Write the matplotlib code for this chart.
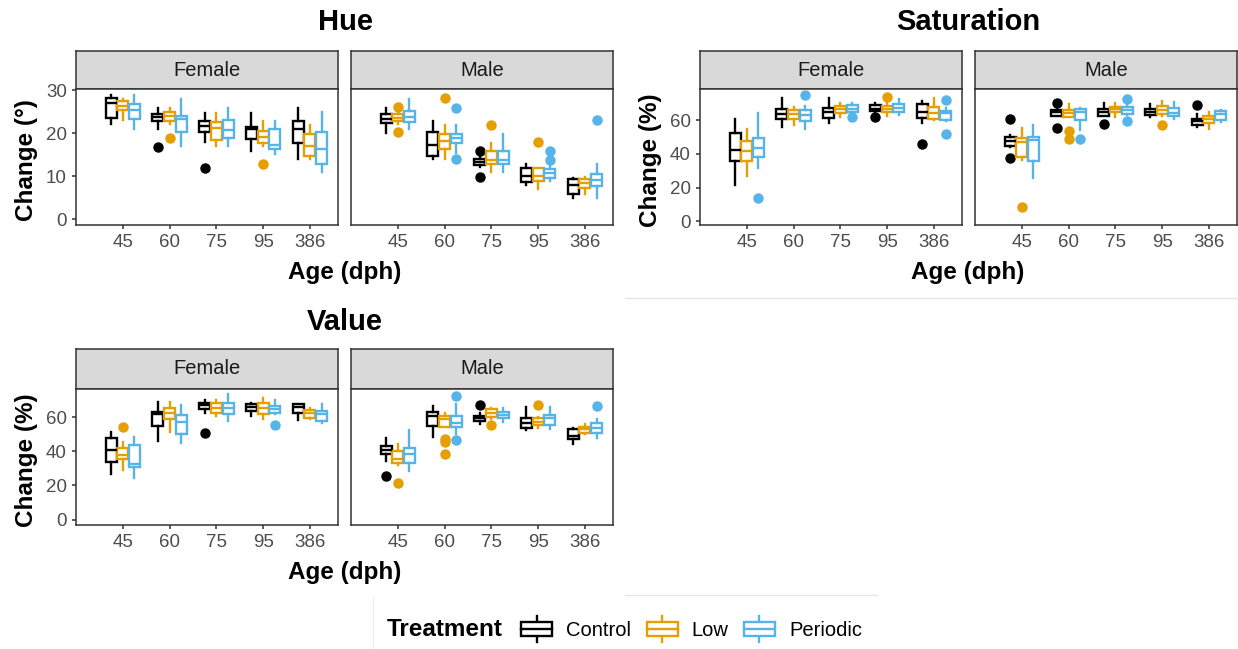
import matplotlib
matplotlib.use("Agg")
import matplotlib.pyplot as plt
from matplotlib.patches import Rectangle
from matplotlib.lines import Line2D
from matplotlib.legend_handler import HandlerBase

plt.rcParams['font.family'] = ['Liberation Sans', 'DejaVu Sans']

# -------------------------------
# DATA  (each box: whislo, q1, median, q3, whishi)
# -------------------------------
ages = ["45", "60", "75", "95", "386"]
treatments = ["Control", "Low", "Periodic"]
colors = ["#000000", "#E69F00", "#56B4E9"]

hue_f_ctrl = [[22.1, 23.6, 27.1, 28.3, 28.8], [21.1, 22.9, 23.9, 24.6, 26.0], [18.0, 20.3, 21.7, 22.9, 24.8],
              [16.0, 18.6, 20.9, 21.5, 24.8], [14.0, 17.8, 20.9, 22.9, 25.8]]
hue_f_ctrl_out = [[], [16.9], [12.0], [], []]
hue_f_low = [[23.1, 25.4, 26.4, 27.6, 27.9], [22.1, 22.9, 24.0, 25.0, 26.0], [17.1, 18.4, 21.3, 22.6, 24.8],
             [17.1, 17.8, 19.2, 20.5, 22.9], [14.0, 14.7, 17.1, 19.8, 21.9]]
hue_f_low_out = [[], [19.0], [], [12.9], []]
hue_f_per = [[21.1, 23.4, 25.4, 26.7, 29.0], [17.1, 20.4, 23.4, 24.0, 27.9], [17.1, 18.8, 20.7, 23.1, 26.0],
             [15.1, 16.3, 17.4, 21.1, 22.9], [11.1, 12.8, 16.3, 20.2, 25.0]]
hue_f_per_out = [[], [], [], [], []]

hue_m_ctrl = [[20.0, 22.5, 23.4, 24.6, 25.8], [14.0, 14.7, 17.4, 20.2, 22.9], [12.2, 12.6, 13.3, 14.0, 14.9],
              [8.1, 8.7, 10.1, 12.0, 12.8], [5.0, 6.0, 7.9, 9.5, 9.7]]
hue_m_ctrl_out = [[], [], [16.0, 9.9], [], []]
hue_m_low = [[22.1, 22.9, 23.6, 24.6, 24.8], [14.0, 16.3, 18.2, 19.9, 21.9], [11.0, 12.8, 13.7, 15.9, 17.8],
             [7.0, 8.9, 10.0, 12.0, 12.0], [6.0, 7.4, 8.4, 9.3, 9.9]]
hue_m_low_out = [[26.1, 20.2], [28.1], [21.9], [18.1], []]
hue_m_per = [[21.1, 22.6, 23.8, 25.2, 27.9], [15.5, 17.7, 18.8, 19.9, 21.9], [11.0, 12.8, 13.7, 16.0, 19.8],
             [8.9, 9.7, 10.7, 11.6, 12.4], [5.0, 7.8, 9.1, 10.5, 12.8]]
hue_m_per_out = [[], [26.0, 14.0], [], [16.0, 13.8], [23.0]]

sat_f_ctrl = [[21.7, 35.8, 42.3, 52.3, 60.8], [55.7, 60.8, 63.8, 66.8, 73.0], [58.4, 61.4, 64.8, 67.4, 73.0],
              [65.0, 65.4, 67.0, 68.8, 70.0], [58.4, 61.4, 65.0, 69.4, 71.4]]
sat_f_ctrl_out = [[], [], [], [61.8], [45.7]]
sat_f_low = [[26.6, 35.6, 42.0, 47.7, 54.9], [57.3, 60.8, 63.5, 66.4, 67.8], [62.0, 64.4, 66.8, 68.4, 70.4],
             [62.8, 64.8, 66.8, 68.4, 71.4], [60.0, 60.8, 64.4, 67.8, 73.4]]
sat_f_low_out = [[], [], [], [73.8], []]
sat_f_per = [[31.8, 38.2, 43.3, 49.7, 64.4], [54.7, 59.4, 63.0, 66.4, 68.4], [64.4, 65.2, 67.0, 68.8, 70.4],
             [63.4, 65.0, 67.4, 69.8, 72.4], [59.4, 60.0, 64.4, 65.4, 67.4]]
sat_f_per_out = [[13.5], [75.0], [61.8], [], [72.0, 51.9]]

sat_m_ctrl = [[44.3, 44.7, 47.7, 49.9, 51.3], [62.8, 62.8, 64.8, 66.4, 68.4], [62.8, 62.8, 65.0, 66.8, 70.0],
              [62.0, 63.4, 65.0, 66.8, 69.4], [55.7, 57.3, 59.4, 60.8, 63.8]]
sat_m_ctrl_out = [[60.8, 37.8], [70.4, 55.3], [57.9], [], [68.8]]
sat_m_low = [[36.2, 38.2, 47.3, 49.3, 55.3], [62.0, 62.0, 64.4, 66.0, 69.4], [62.0, 64.8, 66.8, 68.0, 70.4],
             [62.4, 64.0, 66.4, 68.4, 71.4], [55.0, 58.4, 60.8, 62.4, 64.8]]
sat_m_low_out = [[8.7], [53.9, 48.7], [], [57.3], []]
sat_m_per = [[25.6, 35.6, 48.3, 50.3, 57.3], [54.3, 60.4, 64.8, 66.8, 67.4], [63.4, 64.0, 66.4, 68.0, 70.4],
             [60.8, 62.4, 64.4, 67.4, 70.8], [58.8, 60.4, 64.0, 65.4, 66.4]]
sat_m_per_out = [[], [48.7], [72.8, 59.4], [], []]

val_f_ctrl = [[26.7, 33.9, 40.8, 48.0, 51.6], [46.1, 54.9, 61.8, 63.3, 69.2], [62.4, 64.9, 67.3, 68.6, 70.2],
              [60.8, 63.9, 65.9, 67.8, 68.2], [58.4, 62.7, 66.3, 67.8, 67.8]]
val_f_ctrl_out = [[], [], [50.6], [], []]
val_f_low = [[29.0, 35.3, 38.0, 41.8, 45.7], [51.6, 58.8, 62.5, 65.7, 69.2], [60.8, 62.4, 65.3, 68.2, 70.2],
             [58.8, 61.8, 65.7, 68.2, 71.2], [58.8, 59.4, 62.4, 64.3, 65.7]]
val_f_low_out = [[54.5], [], [], [], []]
val_f_per = [[24.1, 30.6, 32.4, 43.7, 48.6], [44.7, 50.0, 57.5, 61.4, 67.3], [57.8, 61.8, 65.3, 68.2, 73.7],
             [61.8, 62.4, 64.9, 66.9, 70.2], [56.5, 58.0, 61.8, 63.7, 67.8]]
val_f_per_out = [[], [], [], [55.5], []]

val_m_ctrl = [[34.3, 38.4, 40.8, 43.1, 48.0], [48.6, 54.9, 60.8, 63.3, 66.7], [55.9, 57.8, 59.8, 60.8, 62.4],
              [52.5, 53.5, 56.9, 59.4, 65.9], [44.3, 47.1, 49.0, 52.9, 53.5]]
val_m_ctrl_out = [[25.5], [], [67.3], [], []]
val_m_low = [[32.0, 33.3, 35.3, 40.2, 44.1], [54.5, 54.5, 58.8, 60.8, 62.7], [58.8, 60.4, 62.7, 64.7, 65.3],
             [53.9, 55.5, 57.5, 59.4, 60.4], [50.0, 50.6, 52.9, 54.5, 55.9]]
val_m_low_out = [[21.2], [47.1, 45.7, 38.2], [55.5], [67.3], []]
val_m_per = [[28.6, 33.3, 38.4, 42.2, 52.5], [50.0, 54.5, 56.9, 60.8, 67.8], [57.5, 59.4, 61.4, 63.3, 65.3],
             [52.9, 55.5, 59.8, 61.4, 66.3], [47.6, 51.0, 53.5, 56.9, 58.8]]
val_m_per_out = [[], [72.2, 46.7], [], [], [66.7]]

# -------------------------------
# LAYOUT (pixel boxes)
# -------------------------------
W, H = 1238, 649
fig = plt.figure(figsize=(W / 100, H / 100), dpi=100)
fig.patch.set_facecolor("white")


def box(x0, y0, x1, y1):
    return [x0 / W, 1 - y1 / H, (x1 - x0) / W, (y1 - y0) / H]


def draw_panel(x0, x1, y_strip, y0, y1, label, data, ylim, yticks, show_y):
    # strip
    sax = fig.add_axes(box(x0, y_strip, x1, y0))
    sax.set_facecolor("#D9D9D9")
    sax.set_xticks([])
    sax.set_yticks([])
    for s in sax.spines.values():
        s.set_color("#333333")
        s.set_linewidth(1.1)
    sax.text(0.5, 0.5, label, ha="center", va="center", fontsize=14.5, color="#1A1A1A",
             transform=sax.transAxes)

    ax = fig.add_axes(box(x0, y0, x1, y1))
    for j, (boxes, outs) in enumerate(data):
        stats = []
        for b, o in zip(boxes, outs):
            stats.append(dict(whislo=b[0], q1=b[1], med=b[2], q3=b[3], whishi=b[4], fliers=o))
        pos = [i + 1 + (j - 1) * 0.25 for i in range(len(boxes))]
        c = colors[j]
        ax.bxp(stats, positions=pos, widths=0.235, showcaps=False, patch_artist=True,
               boxprops=dict(facecolor="white", edgecolor=c, linewidth=1.7),
               medianprops=dict(color=c, linewidth=1.7),
               whiskerprops=dict(color=c, linewidth=1.7),
               flierprops=dict(marker="o", markerfacecolor=c, markeredgecolor=c, markersize=6.5),
               manage_ticks=False)
    ax.set_xlim(0.0, 5.6)
    ax.set_ylim(*ylim)
    ax.set_xticks(range(1, 6))
    ax.set_xticklabels(ages)
    ax.set_yticks(yticks)
    ax.tick_params(length=3, width=1.1, color="#333333", labelcolor="#4D4D4D", labelsize=13.5, pad=3.5)
    if not show_y:
        ax.tick_params(axis="y", left=False, labelleft=False)
    for s in ax.spines.values():
        s.set_color("#333333")
        s.set_linewidth(1.1)
    return ax


hue_f = [(hue_f_ctrl, hue_f_ctrl_out), (hue_f_low, hue_f_low_out), (hue_f_per, hue_f_per_out)]
hue_m = [(hue_m_ctrl, hue_m_ctrl_out), (hue_m_low, hue_m_low_out), (hue_m_per, hue_m_per_out)]
sat_f = [(sat_f_ctrl, sat_f_ctrl_out), (sat_f_low, sat_f_low_out), (sat_f_per, sat_f_per_out)]
sat_m = [(sat_m_ctrl, sat_m_ctrl_out), (sat_m_low, sat_m_low_out), (sat_m_per, sat_m_per_out)]
val_f = [(val_f_ctrl, val_f_ctrl_out), (val_f_low, val_f_low_out), (val_f_per, val_f_per_out)]
val_m = [(val_m_ctrl, val_m_ctrl_out), (val_m_low, val_m_low_out), (val_m_per, val_m_per_out)]

# Hue
draw_panel(76, 338, 51, 89, 225, "Female", hue_f, (-1.3, 30.3), [0, 10, 20, 30], True)
draw_panel(351, 613, 51, 89, 225, "Male", hue_m, (-1.3, 30.3), [0, 10, 20, 30], False)
# Saturation
draw_panel(700, 962, 51, 89, 225, "Female", sat_f, (-2.3, 78.6), [0, 20, 40, 60], True)
draw_panel(975, 1237, 51, 89, 225, "Male", sat_m, (-2.3, 78.6), [0, 20, 40, 60], False)
# Value
draw_panel(76, 338, 349, 389, 525, "Female", val_f, (-3.2, 76.6), [0, 20, 40, 60], True)
draw_panel(351, 613, 349, 389, 525, "Male", val_m, (-3.2, 76.6), [0, 20, 40, 60], False)


# titles and axis labels
def ftext(x, y, s, **kw):
    fig.text(x / W, 1 - y / H, s, **kw)


ftext(345, 22, "Hue", ha="center", va="center", fontsize=21, fontweight="bold")
ftext(968, 22, "Saturation", ha="center", va="center", fontsize=21, fontweight="bold")
ftext(345, 322, "Value", ha="center", va="center", fontsize=21, fontweight="bold")

ftext(345, 272, "Age (dph)", ha="center", va="center", fontsize=17.5, fontweight="bold")
ftext(968, 272, "Age (dph)", ha="center", va="center", fontsize=17.5, fontweight="bold")
ftext(345, 572, "Age (dph)", ha="center", va="center", fontsize=17.5, fontweight="bold")

ftext(27, 160, "Change (°)", ha="center", va="center", rotation=90, fontsize=17.5, fontweight="bold")
ftext(650, 160, "Change (%)", ha="center", va="center", rotation=90, fontsize=17.5, fontweight="bold")
ftext(27, 460, "Change (%)", ha="center", va="center", rotation=90, fontsize=17.5, fontweight="bold")

# faint separator lines
fig.add_artist(Line2D([625 / W, 1], [1 - 298 / H] * 2, color="#E5E5E5", lw=1))
fig.add_artist(Line2D([625 / W, 877 / W], [1 - 595 / H] * 2, color="#E5E5E5", lw=1))
fig.add_artist(Line2D([373 / W, 373 / W], [1 - 597 / H, 0], color="#F0F0F0", lw=1))


# -------------------------------
# LEGEND
# -------------------------------
class BoxHandler(HandlerBase):
    def create_artists(self, legend, orig_handle, xdescent, ydescent, width, height, fontsize, trans):
        c = orig_handle.get_color()
        cx = -xdescent + width / 2
        bh = height * 0.55
        by = -ydescent + (height - bh) / 2
        r = Rectangle((-xdescent, by), width, bh, facecolor="white", edgecolor=c, lw=1.7, transform=trans)
        m = Line2D([-xdescent, -xdescent + width], [by + bh / 2] * 2, color=c, lw=1.7, transform=trans)
        w1 = Line2D([cx, cx], [-ydescent, by], color=c, lw=1.7, transform=trans)
        w2 = Line2D([cx, cx], [by + bh, -ydescent + height], color=c, lw=1.7, transform=trans)
        return [w1, w2, r, m]


handles = [Line2D([], [], color=c) for c in colors]
ftext(387, 629, "Treatment", ha="left", va="center", fontsize=17.5, fontweight="bold")
fig.legend(handles, treatments, handler_map={Line2D: BoxHandler()}, ncol=3, frameon=False,
           loc="center left", bbox_to_anchor=(503 / W, 1 - 629 / H), fontsize=14.5,
           handlelength=1.55, handleheight=1.6, handletextpad=0.7, columnspacing=0.75)

plt.savefig("out.png", dpi=100)
